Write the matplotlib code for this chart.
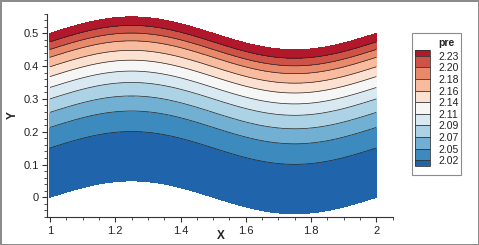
import numpy as np
import matplotlib
matplotlib.use("Agg")
import matplotlib.pyplot as plt
from matplotlib.colors import ListedColormap, BoundaryNorm
from matplotlib.patches import Rectangle
from matplotlib.ticker import MultipleLocator

plt.rcParams['font.family'] = ['Liberation Sans', 'DejaVu Sans']

# channel geometry
x_start, x_end = 1.0, 2.0
channel_height = 0.5
wall_amplitude = 0.05

# pressure contour levels (legend labels) and their height above the lower wall at a given x
levels = [2.02, 2.05, 2.07, 2.09, 2.11, 2.14, 2.16, 2.18, 2.20, 2.23]
eta_levels = [0.151, 0.213, 0.259, 0.300, 0.335, 0.368, 0.398, 0.427, 0.451, 0.474]
# wall values (estimated)
p_bottom, p_top = 2.00, 2.245

tick_labels = ["2.02", "2.05", "2.07", "2.09", "2.11", "2.14", "2.16", "2.18", "2.20", "2.23"]

cols = plt.cm.RdBu_r(np.linspace(0.1, 0.9, 11))

# grid
xs = np.linspace(x_start, x_end, 301)
etas = np.linspace(0, channel_height, 251)
X, E = np.meshgrid(xs, etas)
Yb = wall_amplitude * np.sin(2 * np.pi * (X - x_start))
Y = Yb + E
P = np.interp(E, [0] + eta_levels + [channel_height], [p_bottom] + levels + [p_top])

fig = plt.figure(figsize=(4.79, 2.45), dpi=100)
fig.patch.set_edgecolor('#8c8c8c')
fig.patch.set_linewidth(2)
ax = fig.add_axes([46.7 / 479, 28 / 245, 346.6 / 479, 203.4 / 245])

cmap = ListedColormap(cols[1:-1])
cmap.set_under(cols[0])
cmap.set_over(cols[-1])
norm = BoundaryNorm(levels, cmap.N)
cf = ax.contourf(X, Y, P, levels=levels, cmap=cmap, norm=norm, extend='both')
ax.contour(X, Y, P, levels=levels, colors='#222222', linewidths=0.5)

ax.set_xlim(0.99, 2.052)
ax.set_ylim(-0.06, 0.56)
for s in ['top', 'right']:
    ax.spines[s].set_visible(False)
for s in ['left', 'bottom']:
    ax.spines[s].set_color('#333333')
    ax.spines[s].set_linewidth(0.8)
ax.xaxis.set_major_locator(MultipleLocator(0.2))
ax.xaxis.set_minor_locator(MultipleLocator(0.05))
ax.yaxis.set_major_locator(MultipleLocator(0.1))
ax.yaxis.set_minor_locator(MultipleLocator(0.02))
ax.xaxis.set_major_formatter(lambda v, p: f"{v:g}")
ax.yaxis.set_major_formatter(lambda v, p: f"{v:g}" if abs(v) > 1e-9 else "0")
ax.tick_params(which='major', length=3.6, width=0.8, color='#333333', labelsize=8, labelcolor='#222222')
ax.tick_params(which='minor', length=2.2, width=0.6, color='#333333')
ax.tick_params(axis='x', pad=3)
ax.tick_params(axis='y', pad=1.8)

fig.text(12.5 / 479, 1 - 115.5 / 245, "Y", rotation=90, fontsize=8.5, fontweight='bold',
         ha='center', va='center', color='#222222')
fig.text(221 / 479, 1 - 236 / 245, "X", fontsize=8.5, fontweight='bold',
         ha='center', va='center', color='#222222')

# legend box
fig.patches.append(Rectangle((411.7 / 479, 1 - 175 / 245), 49 / 479, 141.7 / 245,
                             transform=fig.transFigure, facecolor='white',
                             edgecolor='#8c8c8c', linewidth=0.8, zorder=-1))
fig.text(454.5 / 479, 1 - 43.5 / 245, "pre", fontsize=7.5, fontweight='bold',
         ha='right', va='center', color='#222222')
cax = fig.add_axes([415 / 479, 1 - 166 / 245, 15 / 479, 116 / 245])
cb = fig.colorbar(cf, cax=cax, extend='both', extendrect=True,
                  extendfrac=0.5 / 9, drawedges=True)
cb.set_ticks(levels)
cb.set_ticklabels(tick_labels)
cb.outline.set_edgecolor('#333333')
cb.outline.set_linewidth(0.6)
cb.dividers.set_color('#333333')
cb.dividers.set_linewidth(0.6)
cax.tick_params(length=0, pad=6, labelsize=7.5, labelcolor='#222222')

fig.savefig("out.png", dpi=100)
